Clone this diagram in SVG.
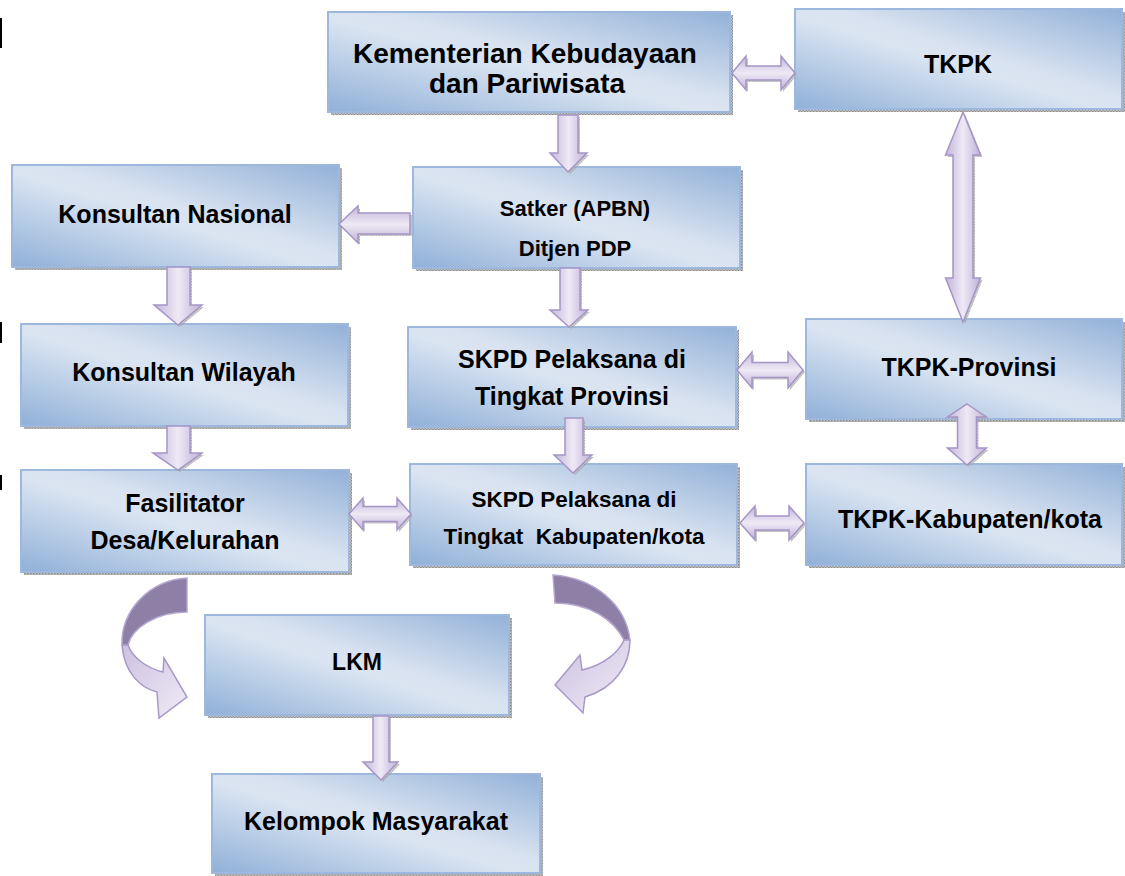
<svg xmlns="http://www.w3.org/2000/svg" xmlns:xlink="http://www.w3.org/1999/xlink" width="1125" height="876" viewBox="0 0 1125 876">
<defs>
<linearGradient id="boxg" x1="0" y1="1" x2="1" y2="0">
<stop offset="0" stop-color="#8fb0d8"/>
<stop offset="0.47" stop-color="#dbe5f2"/>
<stop offset="0.56" stop-color="#d8e2f0"/>
<stop offset="1" stop-color="#92b1d8"/>
</linearGradient>
<linearGradient id="arrV" x1="0" y1="0" x2="1" y2="0">
<stop offset="0" stop-color="#c2b5da"/>
<stop offset="0.5" stop-color="#eee9f5"/>
<stop offset="1" stop-color="#bfb1d8"/>
</linearGradient>
<linearGradient id="arrH" x1="0" y1="0" x2="0" y2="1">
<stop offset="0" stop-color="#c2b5da"/>
<stop offset="0.5" stop-color="#eee9f5"/>
<stop offset="1" stop-color="#bfb1d8"/>
</linearGradient>
<linearGradient id="curlLight" x1="0" y1="0" x2="1" y2="1">
<stop offset="0" stop-color="#cdc1e0"/>
<stop offset="1" stop-color="#efebf6"/>
</linearGradient>
<pattern id="dots" width="3" height="3" patternUnits="userSpaceOnUse">
<rect width="3" height="3" fill="#c4c4c4"/>
<rect width="1.5" height="1.5" fill="#8a8a8a"/>
<rect x="1.5" y="1.5" width="1.5" height="1.5" fill="#9a9a9a"/>
</pattern>
<path id="a1" d="M558,115 L578,115 L578,153 L587,153 L568,172 L550,153 L558,153 Z"/>
<path id="a2" d="M167,267 L190,267 L190,305 L202,305 L178,325 L154,305 L167,305 Z"/>
<path id="a3" d="M560,268 L580,268 L580,310 L588,310 L569,327 L550,310 L560,310 Z"/>
<path id="a4" d="M565,418 L583,418 L583,455 L592,455 L573,473 L554,455 L565,455 Z"/>
<path id="a5" d="M167,426 L190,426 L190,453 L202,453 L178,470 L153,453 L167,453 Z"/>
<path id="a6" d="M373,716 L389,716 L389,762 L398,762 L381,780 L363,762 L373,762 Z"/>
<path id="a7" d="M410,213 L358,213 L358,206 L339,224 L358,243 L358,234 L410,234 Z"/>
<path id="a8" d="M732,73 L746,56 L746,66 L781,66 L781,56 L795,73 L781,90 L781,80 L746,80 L746,90 Z"/>
<path id="a9" d="M737,370 L752,352 L752,362.5 L788,362.5 L788,352 L803,370 L788,388 L788,377.5 L752,377.5 L752,388 Z"/>
<path id="a10" d="M740,523 L755,506 L755,516 L789,516 L789,506 L804,523 L789,540 L789,530 L755,530 L755,540 Z"/>
<path id="a11" d="M349,514 L363,498 L363,506.5 L397,506.5 L397,498 L411,514 L397,530 L397,521.5 L363,521.5 L363,530 Z"/>
<path id="a12" d="M963,112 L980.5,155 L973,155 L973,278 L980.5,278 L963,322 L945.5,278 L953,278 L953,155 L945.5,155 Z"/>
<path id="a13" d="M967,404 L986.5,417 L976.5,417 L976.5,448 L986.5,448 L967,465 L947.5,448 L957.5,448 L957.5,417 L947.5,417 Z"/>
</defs>
<style>
.box{fill:url(#boxg);stroke:#9db8dc;stroke-width:2}
.sh{fill:url(#dots)}
.t{font-family:"Liberation Sans",Arial,sans-serif;font-weight:bold;fill:#000;text-anchor:middle}
.av{fill:url(#arrV);stroke:#a595c6;stroke-width:1.5;stroke-linejoin:miter}
.ah{fill:url(#arrH);stroke:#a595c6;stroke-width:1.5;stroke-linejoin:miter}
.ash{fill:url(#dots);opacity:0.7}
.cdark{fill:#8e7fa7;stroke:#b4a6cf;stroke-width:1.5}
.clight{fill:url(#curlLight);stroke:#a898c8;stroke-width:1.5}
</style>
<rect width="1125" height="876" fill="#fff"/>
<g id="marks">
<rect x="0" y="18" width="2" height="30" fill="#000"/>
<rect x="0" y="322" width="2" height="21" fill="#000"/>
<rect x="0" y="475" width="2" height="15" fill="#000"/>
</g>
<g id="kementerian">
<rect class="sh" x="331" y="15" width="402" height="100"/>
<rect class="box" x="328" y="12" width="402" height="100"/>
<text class="t" x="525" y="63" font-size="28">Kementerian Kebudayaan</text>
<text class="t" x="527" y="93" font-size="28">dan Pariwisata</text>
</g>
<g id="tkpk">
<rect class="sh" x="798" y="12" width="327" height="100"/>
<rect class="box" x="795" y="9" width="327" height="100"/>
<text class="t" x="958" y="73" font-size="25">TKPK</text>
</g>
<g id="satker">
<rect class="sh" x="416" y="170" width="327" height="101"/>
<rect class="box" x="413" y="167" width="327" height="101"/>
<text class="t" x="575" y="216" font-size="22">Satker (APBN)</text>
<text class="t" x="575" y="256" font-size="22">Ditjen PDP</text>
</g>
<g id="konsultan-nasional">
<rect class="sh" x="15" y="168" width="327" height="102"/>
<rect class="box" x="12" y="165" width="327" height="102"/>
<text class="t" x="175" y="223" font-size="25">Konsultan Nasional</text>
</g>
<g id="konsultan-wilayah">
<rect class="sh" x="24" y="327" width="327" height="102"/>
<rect class="box" x="21" y="324" width="327" height="102"/>
<text class="t" x="184" y="381" font-size="25">Konsultan Wilayah</text>
</g>
<g id="skpd-provinsi">
<rect class="sh" x="411" y="330" width="328" height="100"/>
<rect class="box" x="408" y="327" width="328" height="100"/>
<text class="t" x="572" y="368" font-size="25">SKPD Pelaksana di</text>
<text class="t" x="572" y="405" font-size="25">Tingkat Provinsi</text>
</g>
<g id="tkpk-provinsi">
<rect class="sh" x="809" y="322" width="316" height="100"/>
<rect class="box" x="806" y="319" width="316" height="100"/>
<text class="t" x="969" y="376" font-size="25">TKPK-Provinsi</text>
</g>
<g id="fasilitator">
<rect class="sh" x="24" y="473" width="328" height="102"/>
<rect class="box" x="21" y="470" width="328" height="102"/>
<text class="t" x="185" y="512" font-size="25">Fasilitator</text>
<text class="t" x="185" y="549" font-size="25">Desa/Kelurahan</text>
</g>
<g id="skpd-kabupaten">
<rect class="sh" x="413" y="467" width="327" height="101"/>
<rect class="box" x="410" y="464" width="327" height="101"/>
<text class="t" x="574" y="507" font-size="22.5">SKPD Pelaksana di</text>
<text class="t" x="574" y="544" font-size="22.5" xml:space="preserve">Tingkat  Kabupaten/kota</text>
</g>
<g id="tkpk-kabupaten">
<rect class="sh" x="809" y="467" width="316" height="101"/>
<rect class="box" x="806" y="464" width="316" height="101"/>
<text class="t" x="970" y="528" font-size="25">TKPK-Kabupaten/kota</text>
</g>
<g id="lkm">
<rect class="sh" x="208" y="618" width="304" height="100"/>
<rect class="box" x="205" y="615" width="304" height="100"/>
<text class="t" x="357" y="670" font-size="23">LKM</text>
</g>
<g id="kelompok-masyarakat">
<rect class="sh" x="215" y="777" width="328" height="99"/>
<rect class="box" x="212" y="774" width="328" height="99"/>
<text class="t" x="376" y="830" font-size="25">Kelompok Masyarakat</text>
</g>
<g id="connectors">
<g transform="translate(2,2)">
<use xlink:href="#a1" class="ash"/><use xlink:href="#a2" class="ash"/><use xlink:href="#a3" class="ash"/>
<use xlink:href="#a4" class="ash"/><use xlink:href="#a5" class="ash"/><use xlink:href="#a6" class="ash"/>
<use xlink:href="#a7" class="ash"/><use xlink:href="#a8" class="ash"/><use xlink:href="#a9" class="ash"/>
<use xlink:href="#a10" class="ash"/><use xlink:href="#a11" class="ash"/><use xlink:href="#a12" class="ash"/>
<use xlink:href="#a13" class="ash"/>
</g>
<use xlink:href="#a1" class="av"/>
<use xlink:href="#a2" class="av"/>
<use xlink:href="#a3" class="av"/>
<use xlink:href="#a4" class="av"/>
<use xlink:href="#a5" class="av"/>
<use xlink:href="#a6" class="av"/>
<use xlink:href="#a7" class="ah"/>
<use xlink:href="#a8" class="ah"/>
<use xlink:href="#a9" class="ah"/>
<use xlink:href="#a10" class="ah"/>
<use xlink:href="#a11" class="ah"/>
<use xlink:href="#a12" class="av"/>
<use xlink:href="#a13" class="av"/>
<path class="cdark" d="M187,578 C150,580 121,610 122,645 L128,645 C132,628 156,612 187,612 Z"/>
<path class="clight" d="M122,645 C124,672 140,688 157,692 L159,718 L187,697 L164,658 L163,672 C146,668 132,657 128,645 Z"/>
<path class="cdark" d="M553,575 C595,578 626,605 630,640 L624,640 C614,620 590,603 555,603 Z"/>
<path class="clight" d="M630,640 C630,665 615,688 585,697 L583,713 L555,685 L580,655 L582,670 C604,665 619,652 624,640 Z"/>
</g>
</svg>
